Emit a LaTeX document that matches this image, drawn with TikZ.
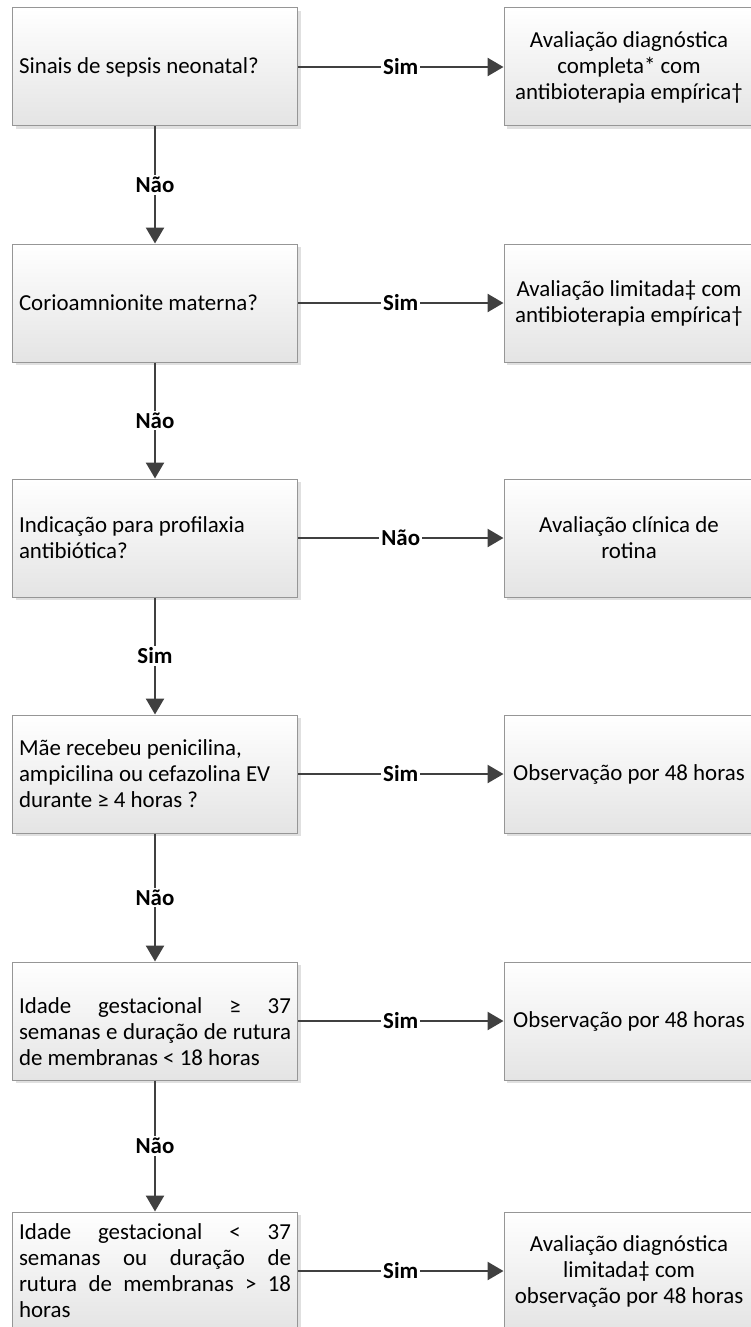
\documentclass[tikz,border=0pt]{standalone}
\usepackage{fontspec}
\setmainfont{Carlito}
\usetikzlibrary{arrows.meta, positioning, shadows}

\definecolor{boxline}{RGB}{150,150,150}
\definecolor{boxbot}{RGB}{228,228,228}
\definecolor{arrgray}{RGB}{64,64,64}

\begin{document}
\begin{tikzpicture}[x=1pt, y=-1pt,
    box/.style={rectangle, draw=boxline, line width=1pt,
        top color=white, bottom color=boxbot,
        drop shadow={shadow xshift=3pt, shadow yshift=-3pt, fill=black, opacity=0.12},
        minimum height=118pt, inner xsep=6.5pt,
        font=\fontsize{22.9}{26}\selectfont},
    question/.style={box, text width=272pt, align=flush left},
    outcome/.style={box, minimum width=250pt, align=center},
    arr/.style={-{Triangle[length=16pt, width=18pt]}, line width=2.5pt, draw=arrgray},
    lbl/.style={font=\fontsize{22.9}{26}\selectfont\bfseries, fill=white,
        inner sep=2pt, text=black}
]
\useasboundingbox (0,0) rectangle (750,1327);

%% Questions (left column)
\node[question] (sepsis)  at (155,67)   {Sinais de sepsis neonatal?};
\node[question] (corio)   at (155,303)  {Corioamnionite materna?};
\node[question] (profil)  at (155,538)  {Indicação para profilaxia\\antibiótica?};
\node[question] (penic)   at (155,774)
    {Mãe recebeu penicilina,\\ampicilina ou cefazolina EV\\durante ≥ 4 horas ?};
\node[question, align=justify] (igmaior) at (155,1021)
    {\rule{0pt}{38pt}Idade gestacional ≥ 37\linebreak semanas e duração de rutura\linebreak de membranas < 18 horas};
\node[question, align=justify] (igmenor) at (155,1271)
    {Idade gestacional < 37\linebreak semanas ou duração de\linebreak rutura de membranas > 18\linebreak horas};

%% Outcomes (right column)
\node[outcome] (completa) at (629,67)
    {Avaliação diagnóstica\\completa* com\\antibioterapia empírica†};
\node[outcome] (limitada) at (629,303)
    {Avaliação limitada‡ com\\antibioterapia empírica†};
\node[outcome] (rotina)   at (629,538)  {Avaliação clínica de\\rotina};
\node[outcome] (obs1)     at (629,774)  {Observação por 48 horas};
\node[outcome] (obs2)     at (629,1021) {Observação por 48 horas};
\node[outcome] (diaglim)  at (629,1271)
    {Avaliação diagnóstica\\limitada‡ com\\observação por 48 horas};

%% ── Horizontal branches ─────────────────────────────────────────
\draw[arr] (sepsis)  -- node[lbl] {Sim} (completa);
\draw[arr] (corio)   -- node[lbl] {Sim} (limitada);
\draw[arr] (profil)  -- node[lbl] {Não} (rotina);
\draw[arr] (penic)   -- node[lbl] {Sim} (obs1);
\draw[arr] (igmaior) -- node[lbl] {Sim} (obs2);
\draw[arr] (igmenor) -- node[lbl] {Sim} (diaglim);

%% ── Vertical chain ──────────────────────────────────────────────
\draw[arr] (sepsis)  -- node[lbl] {Não} (corio);
\draw[arr] (corio)   -- node[lbl] {Não} (profil);
\draw[arr] (profil)  -- node[lbl] {Sim} (penic);
\draw[arr] (penic)   -- node[lbl] {Não} (igmaior);
\draw[arr] (igmaior) -- node[lbl] {Não} (igmenor);

\end{tikzpicture}
\end{document}
